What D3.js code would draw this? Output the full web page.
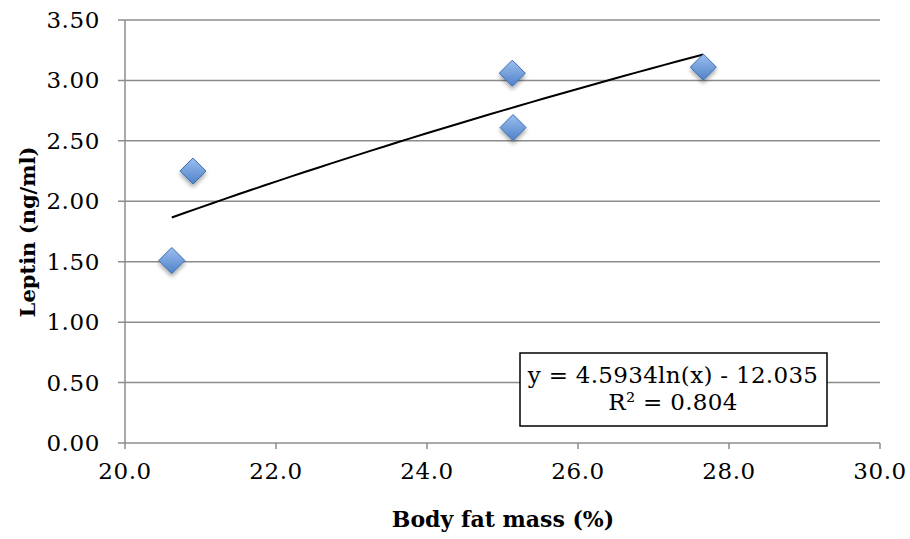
<!DOCTYPE html>
<html><head><meta charset="utf-8">
<script src="https://cdn.jsdelivr.net/npm/d3@7"></script>
<style>body{margin:0;background:#fff}</style>
</head><body>
<svg id="c" width="910" height="539"></svg>
<script>
const bodyFat = [20.62, 20.90, 25.13, 25.14, 27.66];
const leptin = [1.51, 2.25, 3.06, 2.61, 3.11];
const xTicks = [20, 22, 24, 26, 28, 30];
const yTicks = [0, 0.5, 1, 1.5, 2, 2.5, 3, 3.5];
const trendA = 4.5934, trendB = -12.035;
const eqLines = ["y = 4.5934ln(x) - 12.035", "R² = 0.804"];

const svg = d3.select("#c");
const font = "'DejaVu Serif', serif";
const x = d3.scaleLinear().domain([20, 30]).range([125, 880]);
const y = d3.scaleLinear().domain([0, 3.5]).range([443, 20]);

const defs = svg.append("defs");
const g1 = defs.append("linearGradient").attr("id","dg").attr("x1",0).attr("y1",0).attr("x2",0).attr("y2",1);
g1.append("stop").attr("offset","0%").attr("stop-color","#9cbfee");
g1.append("stop").attr("offset","100%").attr("stop-color","#4f82c9");
const f = defs.append("filter").attr("id","sh").attr("x","-50%").attr("y","-50%").attr("width","200%").attr("height","200%");
f.append("feGaussianBlur").attr("in","SourceAlpha").attr("stdDeviation",2).attr("result","b");
f.append("feOffset").attr("in","b").attr("dx",0).attr("dy",3).attr("result","o");
f.append("feComponentTransfer").attr("in","o").attr("result","o2").append("feFuncA").attr("type","linear").attr("slope",0.35);
const fm = f.append("feMerge"); fm.append("feMergeNode").attr("in","o2"); fm.append("feMergeNode").attr("in","SourceGraphic");

// gridlines
svg.append("g").selectAll("line").data(yTicks).join("line")
  .attr("x1", 118).attr("x2", 880).attr("y1", d=>y(d)).attr("y2", d=>y(d))
  .attr("stroke","#8c8c8c").attr("stroke-width",1.5);
// y axis line
svg.append("line").attr("x1",125).attr("x2",125).attr("y1",y(3.5)).attr("y2",y(0)).attr("stroke","#8c8c8c").attr("stroke-width",1.5);
// x ticks
svg.append("g").selectAll("line").data(xTicks).join("line")
  .attr("x1", d=>x(d)).attr("x2", d=>x(d)).attr("y1", y(0)).attr("y2", y(0)+6)
  .attr("stroke","#8c8c8c").attr("stroke-width",1.5);
// tick labels
svg.append("g").selectAll("text").data(yTicks).join("text")
  .attr("x", 100).attr("y", d=>y(d)).attr("dy","0.35em").attr("text-anchor","end")
  .attr("font-family",font).attr("font-size",23).attr("letter-spacing",0.6).attr("fill","#000").text(d=>d.toFixed(2));
svg.append("g").selectAll("text").data(xTicks).join("text")
  .attr("x", d=>x(d)).attr("y", 479).attr("text-anchor","middle")
  .attr("font-family",font).attr("font-size",23).attr("letter-spacing",0.6).attr("fill","#000").text(d=>d.toFixed(1));
// axis titles
svg.append("text").attr("x",503).attr("y",527).attr("text-anchor","middle")
  .attr("font-family",font).attr("font-size",22).attr("font-weight","bold").text("Body fat mass (%)");
svg.append("text").attr("transform","translate(35,232) rotate(-90)").attr("text-anchor","middle")
  .attr("font-family",font).attr("font-size",21).attr("font-weight","bold").text("Leptin (ng/ml)");

// trend line
const x0 = d3.min(bodyFat), x1 = d3.max(bodyFat);
const tx = d3.range(0, 41).map(i => x0 + (x1 - x0) * i / 40);
svg.append("path").datum(tx)
  .attr("d", d3.line().x(d=>x(d)).y(d=>y(trendA*Math.log(d)+trendB)))
  .attr("fill","none").attr("stroke","#000").attr("stroke-width",2);

// markers
const pts = bodyFat.map((v,i)=>[v, leptin[i]]);
svg.append("g").selectAll("path").data(pts).join("path")
  .attr("transform", d=>`translate(${x(d[0])},${y(d[1])})`)
  .attr("d", "M0,-13L13,0L0,13L-13,0Z")
  .attr("fill","url(#dg)").attr("stroke","#3b6db3").attr("stroke-width",1)
  .attr("filter","url(#sh)");

// equation box
svg.append("rect").attr("x",520).attr("y",353).attr("width",307).attr("height",73)
  .attr("fill","#fff").attr("stroke","#000").attr("stroke-width",1.5);
svg.append("g").selectAll("text").data(eqLines).join("text")
  .attr("x",673).attr("y",(d,i)=>383+i*27).attr("text-anchor","middle")
  .attr("font-family",font).attr("font-size",23).attr("letter-spacing",0.3).text(d=>d);
</script>
</body></html>
